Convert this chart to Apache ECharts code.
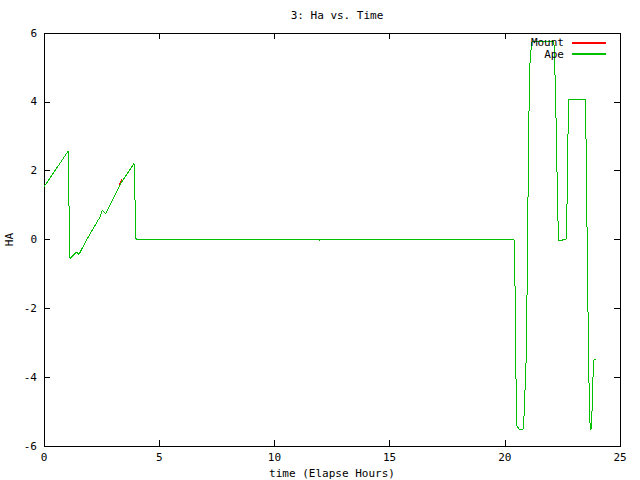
<!DOCTYPE html>
<html>
<head>
<meta charset="utf-8">
<script src="https://cdn.jsdelivr.net/npm/echarts@6/dist/echarts.min.js"></script>
<style>html,body{margin:0;padding:0;background:#fff}#c{width:640px;height:480px}
#c svg path{shape-rendering:crispEdges}</style>
</head>
<body>
<div id="c"></div>
<script>
var hours = [0, 1.042, 1.085, 1.128, 1.406, 1.519, 1.884, 2.418, 2.535, 2.678,
  3.255, 3.30, 3.36, 3.42, 3.906, 3.950, 3.993, 4.036, 11.95, 11.97, 11.99,
  20.399, 20.443, 20.486, 20.530, 20.616, 20.790, 20.833, 20.877, 20.920, 20.964,
  21.007, 21.050, 21.094, 21.137, 21.181, 22.131, 22.166, 22.209, 22.252, 22.296,
  22.339, 22.500, 22.526, 22.656, 22.700, 22.743, 22.786, 23.490, 23.533, 23.576,
  23.620, 23.663, 23.707, 23.741, 23.785, 23.828, 23.872, 23.976];
var apeHa = [1.53, 2.56, 1.00, -0.55, -0.36, -0.43, 0.03, 0.64, 0.85, 0.75,
  1.53, 1.58, 1.66, 1.72, 2.21, 1.14, 0.03, 0, 0, -0.03, 0,
  0, -1.35, -4.02, -5.42, -5.51, -5.51, -5.15, -4.39, -3.63, -1.64,
  1.21, 3.71, 5.12, 5.50, 5.75, 5.75, 5.12, 3.99, 2.54, 0.82,
  -0.02, -0.02, 0.01, 0.01, 1.00, 3.03, 4.07, 4.07, 2.65, -0.14,
  -2.56, -4.52, -5.51, -5.51, -5.00, -4.00, -3.50, -3.50];
var mountHa = [1.53, 2.56, 1.00, -0.55, -0.36, -0.43, 0.03, 0.64, 0.85, 0.75,
  1.53, 1.65, 1.73, 1.72, 2.21, 1.14, 0.03, 0, 0, -0.03, 0,
  0, -1.35, -4.02, -5.42, -5.51, -5.51, -5.15, -4.39, -3.63, -1.64,
  1.21, 3.71, 5.12, 5.50, 5.75, 5.75, 5.12, 3.99, 2.54, 0.82,
  -0.02, -0.02, 0.01, 0.01, 1.00, 3.03, 4.07, 4.07, 2.65, -0.14,
  -2.56, -4.52, -5.51, -5.51, -5.00, -4.00, -3.50, -3.50];
var seriesNames = ['Mount', 'Ape'];
var titleText = '3: Ha vs. Time';
var xTitle = 'time (Elapse Hours)';
var yTitle = 'HA';

function pairs(xs, ys) { return xs.map(function (x, i) { return [x, ys[i]]; }); }

var font = 'DejaVu Sans Mono';
var chart = echarts.init(document.getElementById('c'), null, { renderer: 'svg' });
var tickStyle = { show: true, inside: true, length: 6, lineStyle: { color: '#000', width: 1 } };
var lineAx = { show: true, onZero: false, lineStyle: { color: '#000', width: 1 } };
chart.setOption({
  animation: false,
  backgroundColor: '#fff',
  title: {
    text: titleText, left: 332, top: 5, textAlign: 'center',
    textStyle: { fontFamily: font, fontSize: 11, fontWeight: 'normal', color: '#000' }
  },
  legend: {
    data: seriesNames, orient: 'vertical', right: 28, top: 32, align: 'right',
    itemWidth: 34, itemHeight: 11, itemGap: 0.5,
    itemStyle: { opacity: 0 },
    textStyle: { fontFamily: font, fontSize: 11, color: '#000', padding: [0, 3, 0, 0] }
  },
  grid: { left: 44, right: 20, top: 33, bottom: 34, show: true, borderColor: '#000', borderWidth: 1,
    containLabel: false, outerBoundsMode: 'none' },
  xAxis: [{
    type: 'value', min: 0, max: 25, interval: 5, position: 'bottom',
    name: xTitle, nameLocation: 'middle', nameGap: 22, nameMoveOverlap: false,
    nameTextStyle: { fontFamily: font, fontSize: 11, color: '#000' },
    axisLine: lineAx, axisTick: tickStyle, splitLine: { show: false },
    axisLabel: { fontFamily: font, fontSize: 11, color: '#000', margin: 6 }
  }, {
    type: 'value', min: 0, max: 25, interval: 5, position: 'top',
    axisLine: lineAx, axisTick: tickStyle, splitLine: { show: false }, axisLabel: { show: false }
  }],
  yAxis: [{
    type: 'value', min: -6, max: 6, interval: 2, position: 'left',
    name: yTitle, nameLocation: 'middle', nameGap: 29, nameRotate: 90, nameMoveOverlap: false,
    nameTextStyle: { fontFamily: font, fontSize: 11, color: '#000' },
    axisLine: lineAx, axisTick: tickStyle, splitLine: { show: false },
    axisLabel: { fontFamily: font, fontSize: 11, color: '#000', margin: 7 }
  }, {
    type: 'value', min: -6, max: 6, interval: 2, position: 'right',
    axisLine: lineAx, axisTick: tickStyle, splitLine: { show: false }, axisLabel: { show: false }
  }],
  series: [{
    name: seriesNames[0], type: 'line', data: pairs(hours, mountHa),
    xAxisIndex: 0, yAxisIndex: 0, symbol: 'none', showSymbol: false,
    lineStyle: { color: '#ff0000', width: 1 }, itemStyle: { color: '#ff0000' }, z: 2
  }, {
    name: seriesNames[1], type: 'line', data: pairs(hours, apeHa),
    xAxisIndex: 0, yAxisIndex: 0, symbol: 'none', showSymbol: false,
    lineStyle: { color: '#00c000', width: 1 }, itemStyle: { color: '#00c000' }, z: 3
  }]
});
</script>
</body>
</html>
